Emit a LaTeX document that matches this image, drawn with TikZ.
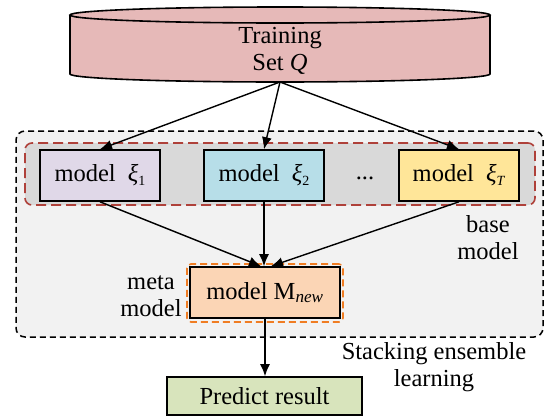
\documentclass[tikz,border=0pt]{standalone}
\usepackage{fontspec}
\setmainfont{Liberation Serif}
\usetikzlibrary{arrows.meta}
\definecolor{cylfill}{RGB}{230,185,184}
\definecolor{outerbg}{RGB}{242,242,242}
\definecolor{basebg}{RGB}{217,217,217}
\definecolor{baseborder}{RGB}{175,65,58}
\definecolor{metaborder}{RGB}{240,125,35}
\definecolor{onefill}{RGB}{224,216,232}
\definecolor{twofill}{RGB}{183,222,232}
\definecolor{tfill}{RGB}{255,230,153}
\definecolor{metafill}{RGB}{251,213,181}
\definecolor{predfill}{RGB}{216,228,188}
\newcommand{\xisub}[1]{\textit{ξ}\raisebox{-4pt}{\fontsize{14}{14}\selectfont #1}}

\begin{document}
\begin{tikzpicture}[x=1pt, y=-1pt, >={Latex[length=12pt,width=10pt]},
    every node/.style={font=\fontsize{24.5}{27}\selectfont},
    modelbox/.style={draw, line width=1.6pt, minimum width=120, minimum height=51, inner sep=0pt},
    arr/.style={->, line width=1.4pt}]
    \useasboundingbox (0,0) rectangle (547,418);

    % Training set cylinder
    \filldraw[line width=1.6pt, fill=cylfill] (70,15) -- (70,74)
        arc[start angle=180, end angle=0, x radius=210, y radius=8] -- (490,15);
    \filldraw[line width=1.6pt, fill=cylfill] (280,15) ellipse (210 and 8);
    \node[align=center] (train) at (280,51) {Training\\Set \textit{Q}};
    \coordinate (qbot) at (280,82);

    % Stacking frame and base model frame
    \node[draw, dash pattern=on 6pt off 4pt, line width=1.5pt, fill=outerbg, rounded corners=9pt,
        minimum width=527, minimum height=206] (stack) at (279.5,234) {};
    \node[draw=baseborder, dash pattern=on 10pt off 5pt, line width=1.6pt, fill=basebg,
        rounded corners=7pt, minimum width=510, minimum height=62] (base) at (280,174) {};

    % Base models
    \node[modelbox, fill=onefill] (m1) at (100,175.5) {model\enspace\xisub{1}};
    \node[modelbox, fill=twofill] (m2) at (264,175.5) {model\enspace\xisub{2}};
    \node (dots) at (365,178) {...};
    \node[modelbox, fill=tfill] (mT) at (459,175.5) {model\enspace\xisub{\textit{T}}};
    \node[align=center] (baselbl) at (488,238) {base\\model};

    % Meta model
    \node[draw=metaborder, dash pattern=on 7pt off 4pt, line width=1.6pt, rounded corners=4pt,
        minimum width=156, minimum height=58] (metaframe) at (265,293) {};
    \node[modelbox, fill=metafill, minimum width=150] (meta) at (265,292.5)
        {model M\textsubscript{\textit{new}}};
    \node[align=center] (metalbl) at (151,296) {meta\\model};

    % Output
    \node[modelbox, fill=predfill, minimum width=195, minimum height=38] (pred) at (264.5,396)
        {Predict result};
    \node[align=center] (stacklbl) at (434,367) {Stacking ensemble\\learning};

    % Arrows
    \draw[arr] (qbot) -- (m1.north);
    \draw[arr] (qbot) -- (m2.north);
    \draw[arr] (qbot) -- (mT.north);
    \draw[arr] (m1.south) -- ([xshift=-4]meta.north);
    \draw[arr] (m2.south) -- (m2.south |- meta.north);
    \draw[arr] (mT.south) -- ([xshift=6]meta.north);
    \draw[arr] (meta.south) -- (meta.south |- pred.north);
\end{tikzpicture}
\end{document}
